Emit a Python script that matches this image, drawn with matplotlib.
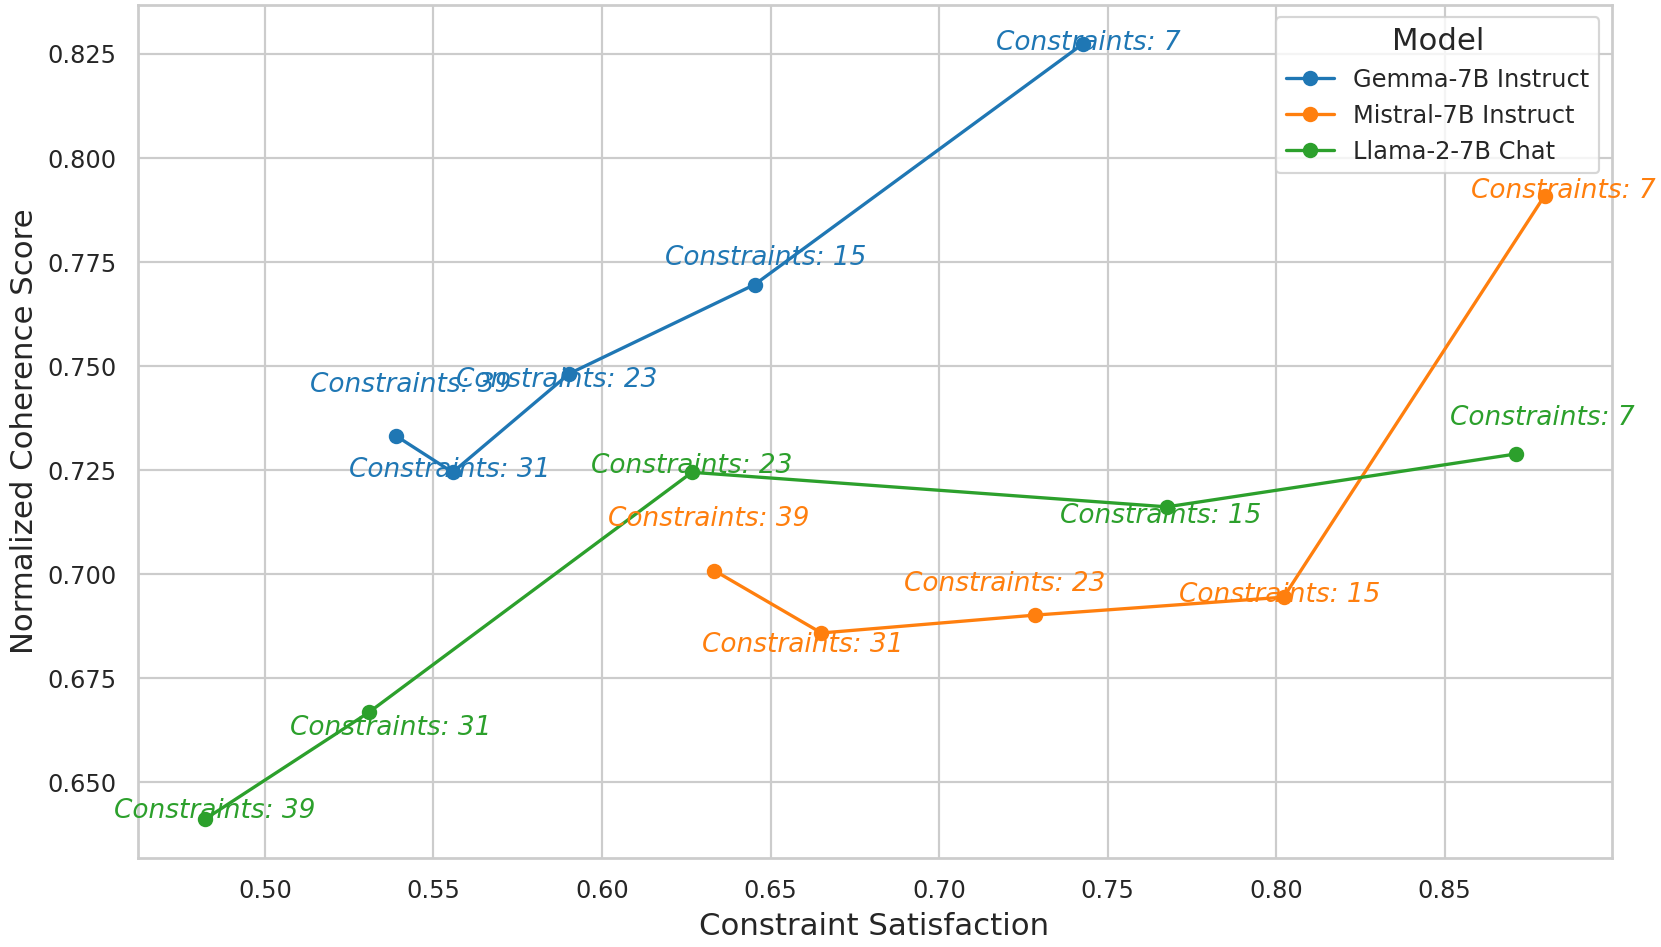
import matplotlib
matplotlib.use("Agg")
import matplotlib.pyplot as plt
import seaborn as sns

# Data
models = ["Gemma-7B Instruct", "Mistral-7B Instruct", "Llama-2-7B Chat"]
constraints = [39, 31, 23, 15, 7]

gemma_x = [0.539, 0.5557, 0.5903, 0.6453, 0.7428]
gemma_y = [0.7332, 0.7245, 0.7482, 0.7696, 0.8275]

mistral_x = [0.6333, 0.6651, 0.7286, 0.8022, 0.8796]
mistral_y = [0.7009, 0.6859, 0.6902, 0.6945, 0.7909]

llama_x = [0.4821, 0.5308, 0.6267, 0.7676, 0.8711]
llama_y = [0.6411, 0.6668, 0.7245, 0.7162, 0.7289]

# label offsets (points) for each annotation, same order as constraints
gemma_off = [(6.6, 23.1), (-1.4, 1.1), (-5.7, -2.8), (4.8, 12.1), (2.4, 0.3)]
mistral_off = [(-2.4, 23.4), (-8.5, -5.3), (-14.2, 14.1), (-1.9, 1.0), (8.7, 2.2)]
llama_off = [(4.7, 3.8), (10.1, -7.2), (0, 2.9), (-2.8, -4.3), (12, 16.3)]

sns.set_theme(style="whitegrid")
plt.rcParams['font.family'] = ['DejaVu Sans']

DPI = 158.3
fig, ax = plt.subplots(figsize=(1661 / DPI, 947 / DPI), dpi=DPI)
fig.subplots_adjust(left=0.0828, right=0.9702, top=0.995, bottom=0.0937)

series = [
    (gemma_x, gemma_y, gemma_off, "tab:blue"),
    (mistral_x, mistral_y, mistral_off, "tab:orange"),
    (llama_x, llama_y, llama_off, "tab:green"),
]

for name, (xs, ys, offs, col) in zip(models, series):
    ax.plot(xs, ys, marker='o', color=col, label=name, linewidth=1.5, markersize=6)
    for c, x, y, off in zip(constraints, xs, ys, offs):
        ax.annotate(f"Constraints: {c}", xy=(x, y), xytext=off,
                    textcoords='offset points', ha='center', va='center',
                    fontsize=12, style='italic', color=col)

ax.set_xlabel("Constraint Satisfaction", fontsize=14)
ax.set_ylabel("Normalized Coherence Score", fontsize=14)
ax.tick_params(labelsize=11)

ax.legend(title="Model", loc='upper right', fontsize=11, title_fontsize=14)

plt.savefig("out.png", dpi=DPI)
